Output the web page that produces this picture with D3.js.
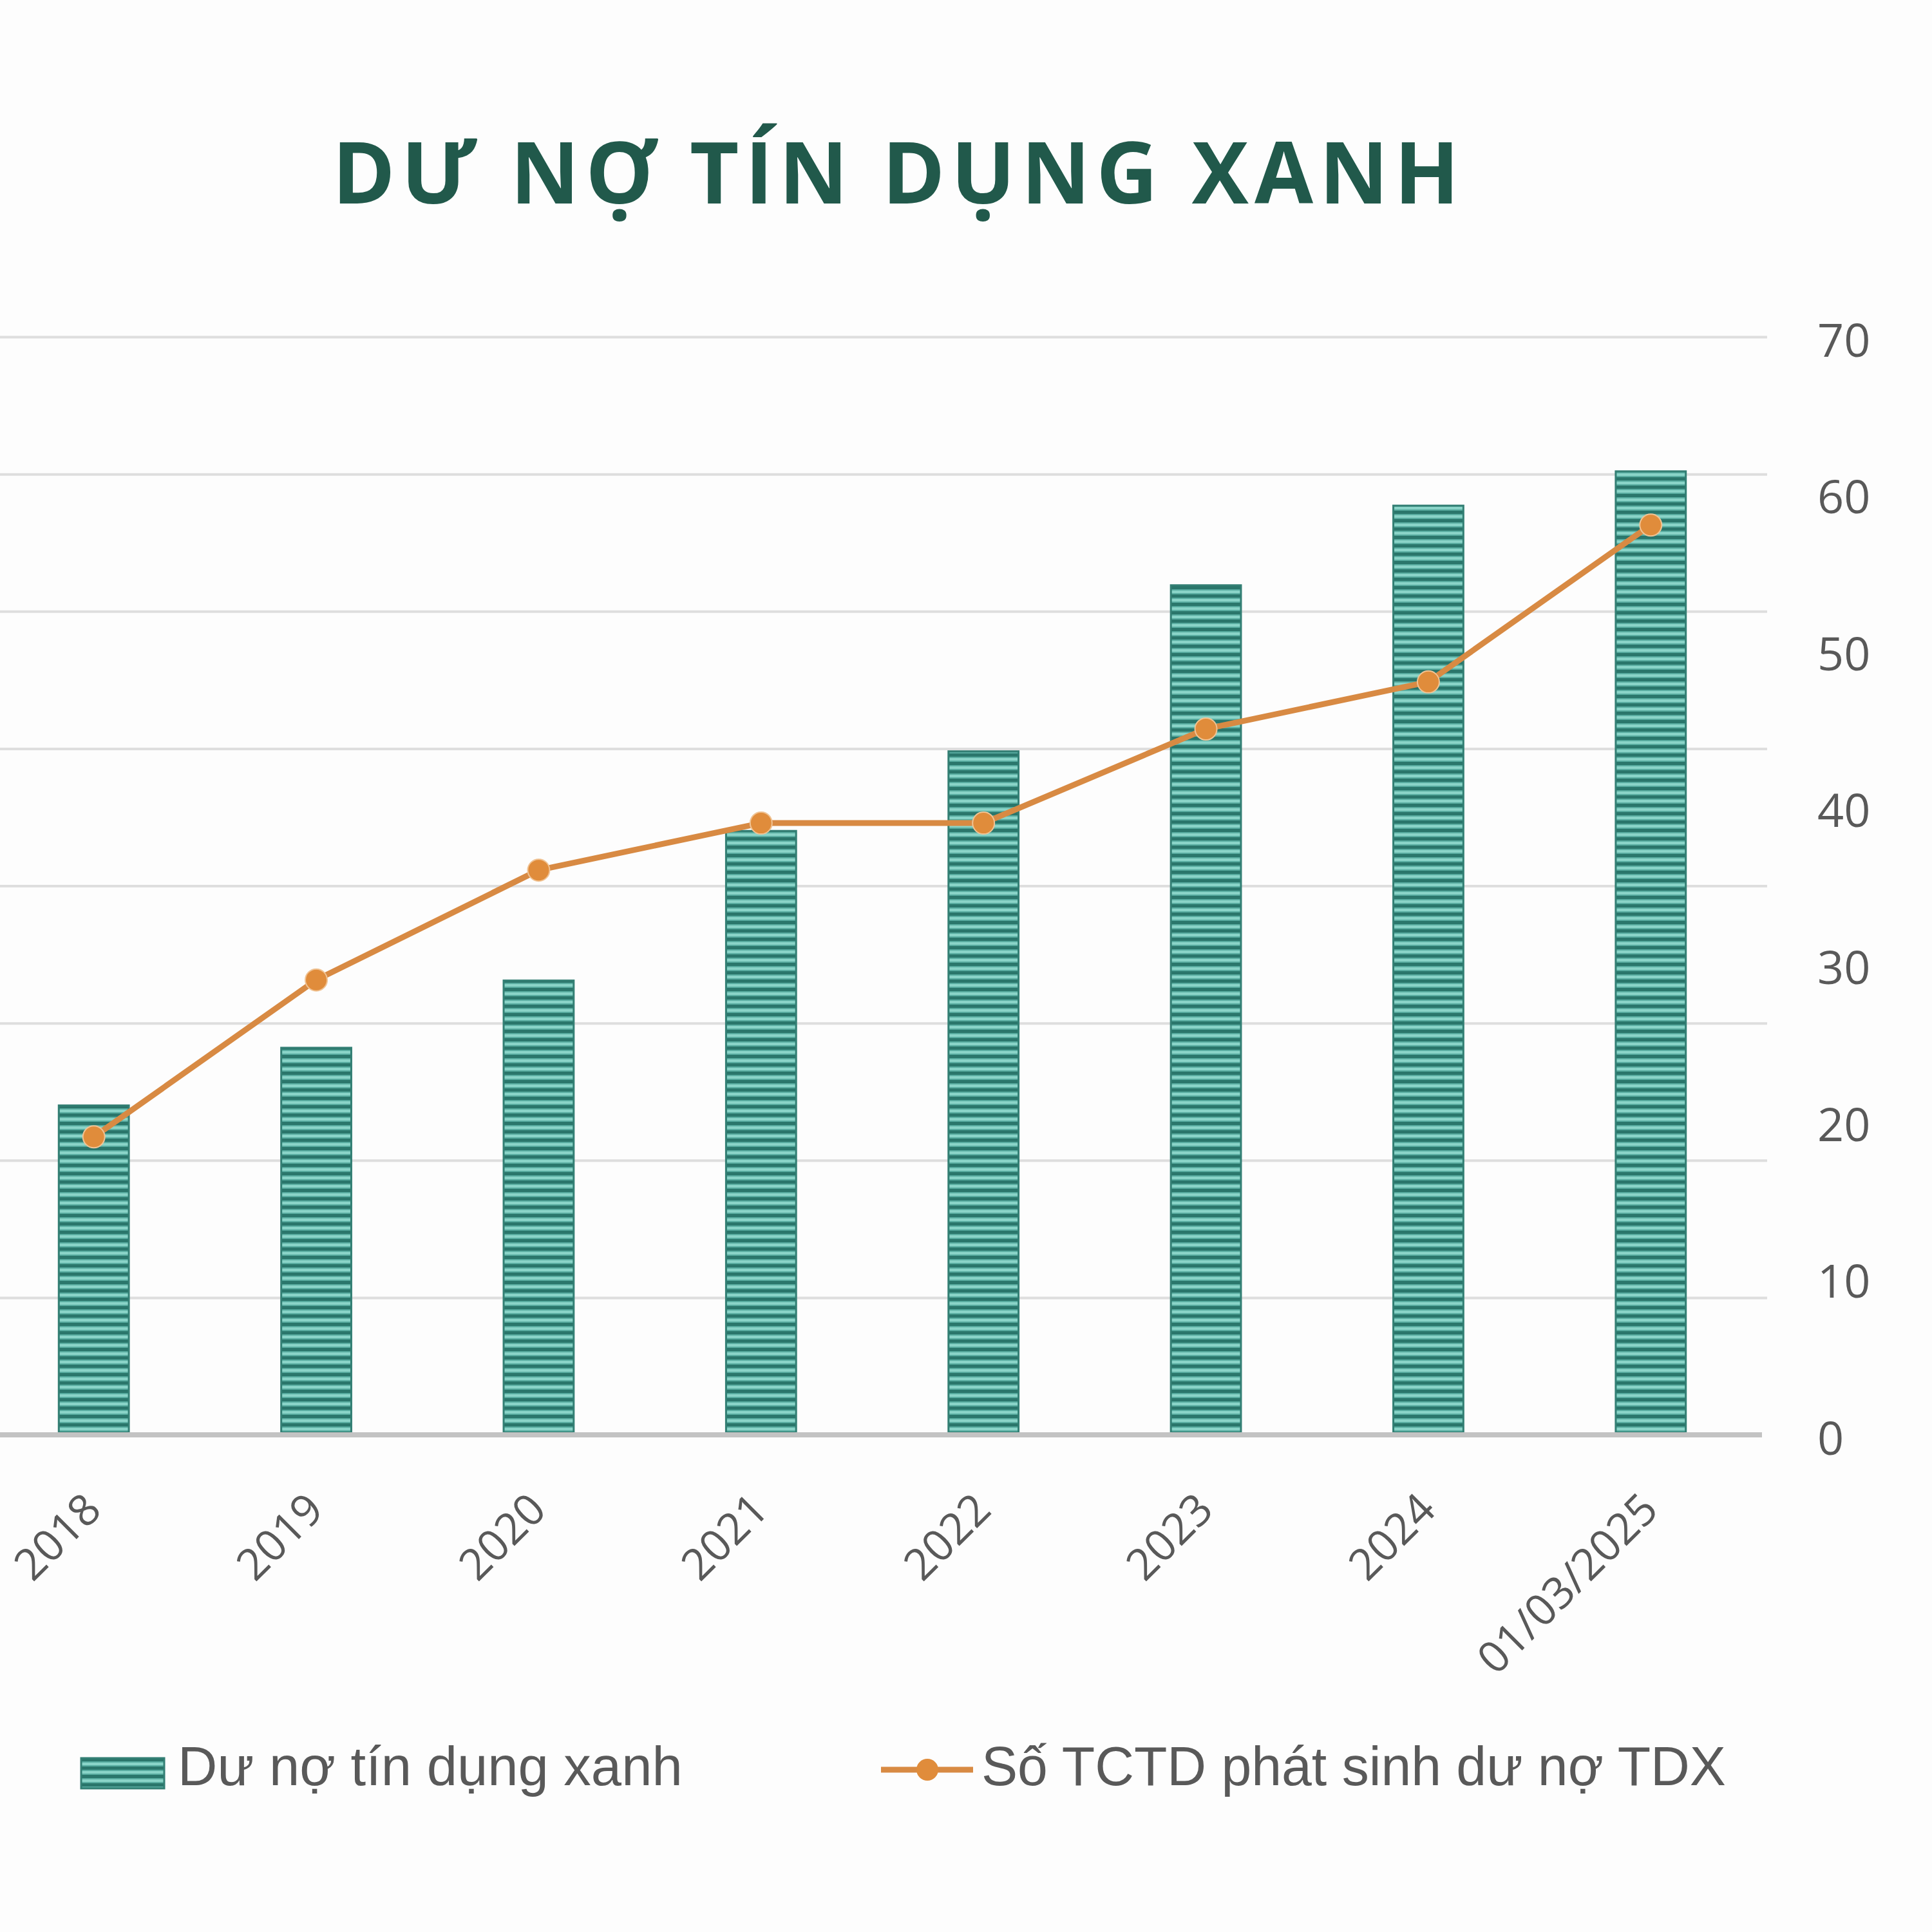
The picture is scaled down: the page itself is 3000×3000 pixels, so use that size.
<!DOCTYPE html>
<html>
<head>
<meta charset="utf-8">
<script src="https://cdn.jsdelivr.net/npm/d3@7"></script>
<style>
  html, body { margin: 0; padding: 0; background: #fdfdfd; }
  svg { display: block; }
</style>
</head>
<body>
<div id="chart"></div>
<script>
// Dư nợ tín dụng xanh (nghìn tỷ đồng, trục trái ẩn) và số TCTD (trục phải)
const categories = ["2018", "2019", "2020", "2021", "2022", "2023", "2024", "01/03/2025"];
const creditValues = [240, 282, 331, 440, 498, 619, 677, 702];
const tctdCounts = [19, 29, 36, 39, 39, 45, 48, 58];
const leftTicks = [0, 100, 200, 300, 400, 500, 600, 700, 800];
const rightTicks = [0, 10, 20, 30, 40, 50, 60, 70];

const W = 3000, H = 3000;
const plot = { left: -27, right: 2736, top: 523, bottom: 2228, gridEnd: 2744 };

const TEAL_DARK = "#2a766b", TEAL_MID = "#58aca0", TEAL_LIGHT = "#8ad4c8";
const ORANGE = "#d88a43";
const GREY_TEXT = "#595959";

const svg = d3.select("#chart").append("svg")
    .attr("width", W).attr("height", H)
    .attr("viewBox", `0 0 ${W} ${H}`);

svg.append("rect").attr("width", W).attr("height", H).attr("fill", "#fdfdfd");

// Striped fill for the bars
const defs = svg.append("defs");
const pat = defs.append("pattern")
    .attr("id", "stripes")
    .attr("patternUnits", "userSpaceOnUse")
    .attr("width", 20).attr("height", 13);
pat.append("rect").attr("width", 20).attr("height", 13).attr("fill", TEAL_LIGHT);
pat.append("rect").attr("y", 0).attr("width", 20).attr("height", 5).attr("fill", TEAL_DARK);
pat.append("rect").attr("y", 5).attr("width", 20).attr("height", 2).attr("fill", TEAL_MID);
pat.append("rect").attr("y", 11).attr("width", 20).attr("height", 2).attr("fill", TEAL_MID);

// Scales
const x = d3.scaleBand()
    .domain(categories)
    .range([plot.left, plot.right])
    .paddingInner(0.685)
    .paddingOuter(0.3425);

const yLeft = d3.scaleLinear().domain([0, 800]).range([plot.bottom, plot.top]);
const yRight = d3.scaleLinear().domain([0, 70]).range([plot.bottom, plot.top]);

// Title
svg.append("text")
    .attr("x", 1391).attr("y", 316)
    .attr("text-anchor", "middle")
    .attr("font-family", "'Open Sans', 'Noto Sans', sans-serif")
    .attr("font-weight", "bold")
    .attr("font-size", 132)
    .attr("fill", "#21594b")
    .attr("textLength", 1750)
    .attr("lengthAdjust", "spacing")
    .text("DƯ NỢ TÍN DỤNG XANH");

// Gridlines from the (hidden) left axis
const grid = svg.append("g")
    .call(d3.axisLeft(yLeft).tickValues(leftTicks.slice(1)).tickSize(-plot.gridEnd).tickFormat(""));
grid.select(".domain").remove();
grid.selectAll(".tick line").attr("stroke", "#dedede").attr("stroke-width", 4);

// Bars
svg.append("g").selectAll("rect")
    .data(categories)
    .join("rect")
    .attr("x", d => x(d))
    .attr("y", (d, i) => yLeft(creditValues[i]))
    .attr("width", x.bandwidth())
    .attr("height", (d, i) => yLeft(0) - yLeft(creditValues[i]))
    .attr("fill", "url(#stripes)")
    .attr("stroke", "#337f74")
    .attr("stroke-width", 3);

// Baseline
svg.append("line")
    .attr("x1", 0).attr("x2", plot.right)
    .attr("y1", yLeft(0)).attr("y2", yLeft(0))
    .attr("stroke", "#c3c3c3").attr("stroke-width", 8);

// Right axis labels
const rAxis = svg.append("g")
    .attr("transform", `translate(${plot.gridEnd},0)`)
    .call(d3.axisRight(yRight).tickValues(rightTicks).tickSize(0).tickPadding(78));
rAxis.select(".domain").remove();
rAxis.selectAll("text")
    .attr("dy", "0.42em")
    .attr("font-family", "'Open Sans', sans-serif")
    .attr("font-size", 72)
    .attr("fill", GREY_TEXT);

// X axis labels, rotated
svg.append("g").selectAll("text")
    .data(categories)
    .join("text")
    .attr("transform", d => `translate(${x(d) + x.bandwidth() / 2 + 15},2348) rotate(-45)`)
    .attr("text-anchor", "end")
    .attr("font-family", "'Open Sans', sans-serif")
    .attr("font-size", 68)
    .attr("fill", GREY_TEXT)
    .text(d => d);

// Line series
const cx = d => x(d) + x.bandwidth() / 2;
const line = d3.line()
    .x((d, i) => cx(categories[i]))
    .y(d => yRight(d));

svg.append("path")
    .datum(tctdCounts)
    .attr("d", line)
    .attr("fill", "none")
    .attr("stroke", ORANGE)
    .attr("stroke-width", 9)
    .attr("stroke-linejoin", "round");

svg.append("g").selectAll("circle")
    .data(tctdCounts)
    .join("circle")
    .attr("cx", (d, i) => cx(categories[i]))
    .attr("cy", d => yRight(d))
    .attr("r", 17)
    .attr("fill", "#e08c3b")
    .attr("stroke", "#f0c394")
    .attr("stroke-width", 2);

// Legend
const legend = svg.append("g")
    .attr("font-family", "'Liberation Sans', Arial, sans-serif")
    .attr("font-size", 85)
    .attr("fill", GREY_TEXT);

legend.append("rect")
    .attr("x", 126).attr("y", 2730)
    .attr("width", 129).attr("height", 47)
    .attr("fill", "url(#stripes)")
    .attr("stroke", "#337f74").attr("stroke-width", 3);
legend.append("text")
    .attr("x", 276).attr("y", 2772)
    .text("Dư nợ tín dụng xanh");

legend.append("line")
    .attr("x1", 1368).attr("x2", 1511)
    .attr("y1", 2748).attr("y2", 2748)
    .attr("stroke", ORANGE).attr("stroke-width", 9);
legend.append("circle")
    .attr("cx", 1440).attr("cy", 2748).attr("r", 17)
    .attr("fill", "#e08c3b");
legend.append("text")
    .attr("x", 1524).attr("y", 2772)
    .attr("textLength", 1156)
    .attr("lengthAdjust", "spacingAndGlyphs")
    .text("Số TCTD phát sinh dư nợ TDX");
</script>
</body>
</html>
